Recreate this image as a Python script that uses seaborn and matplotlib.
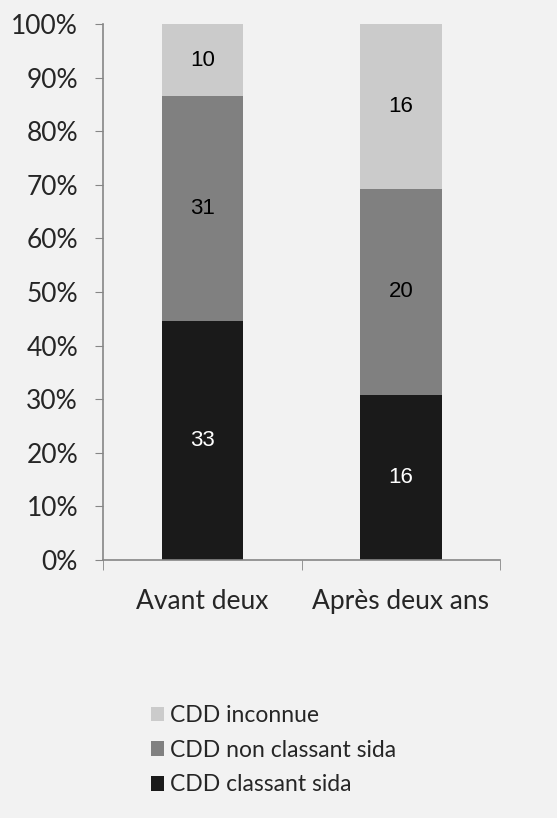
import matplotlib
matplotlib.use("Agg")
import matplotlib.pyplot as plt
import numpy as np
import pandas as pd
import seaborn as sns
from matplotlib.patches import Patch

# Data
periods = ["Avant deux", "Après deux ans"]
classant = [33, 16]
non_classant = [31, 20]
inconnue = [10, 16]
series_names = ["CDD classant sida", "CDD non classant sida", "CDD inconnue"]
colors = ["#1a1a1a", "#808080", "#cbcbcb"]
label_colors = ["white", "black", "black"]

sns.set_style("white")
plt.rcParams["font.family"] = ["Lato", "DejaVu Sans"]

counts = pd.DataFrame(
    {series_names[0]: classant, series_names[1]: non_classant, series_names[2]: inconnue},
    index=periods,
)
shares = counts.div(counts.sum(axis=1), axis=0)
cum = shares.cumsum(axis=1)

bg = "#f2f2f2"
fig = plt.figure(figsize=(5.57, 8.18), dpi=100, facecolor=bg)
ax = fig.add_axes([0.185, 0.3154, 0.713, 0.6553], facecolor=bg)

# overlapping cumulative bars give the stacked look, top layer drawn first
for name, color in reversed(list(zip(series_names, colors))):
    df = pd.DataFrame({"period": periods, "value": cum[name].values})
    sns.barplot(data=df, x="period", y="value", color=color, width=0.41,
                saturation=1, ax=ax, linewidth=0)

# centred labels with the raw counts
for i, period in enumerate(periods):
    bottom = 0.0
    for name, tc in zip(series_names, label_colors):
        h = shares.loc[period, name]
        ax.text(i, bottom + h / 2, str(counts.loc[period, name]), ha="center", va="center",
                color=tc, fontsize=16, family=["Liberation Sans", "DejaVu Sans"])
        bottom += h

ax.set_xlim(-0.5, 1.5)
ax.set_ylim(0, 1.0)
ax.set_yticks(np.arange(0, 1.01, 0.1))
ax.set_yticklabels([f"{int(round(v * 100))}%" for v in np.arange(0, 1.01, 0.1)])
ax.set_xticks([-0.5, 0.5, 1.5], minor=True)
ax.set_xlabel("")
ax.set_ylabel("")

spine_color = "#868686"
for s in ["top", "right"]:
    ax.spines[s].set_visible(False)
for s in ["left", "bottom"]:
    ax.spines[s].set_color(spine_color)
    ax.spines[s].set_linewidth(1.2)

ax.tick_params(axis="y", direction="out", length=6, color=spine_color, labelsize=19,
               labelcolor="#262626", pad=12, left=True)
ax.tick_params(axis="x", which="major", length=0, labelsize=19, labelcolor="#262626", pad=21)
ax.tick_params(axis="x", which="minor", direction="out", length=7, color=spine_color, bottom=True)

handles = [Patch(facecolor=c, edgecolor="none") for c in colors]
leg = fig.legend(handles[::-1], series_names[::-1], loc="upper left",
                 bbox_to_anchor=(0.254, 0.149), frameon=False, fontsize=16.5,
                 handlelength=0.6, handleheight=0.6, handletextpad=0.25,
                 labelspacing=0.59, borderaxespad=0)
for t in leg.get_texts():
    t.set_color("#262626")

fig.savefig("out.png", dpi=100, facecolor=bg)
